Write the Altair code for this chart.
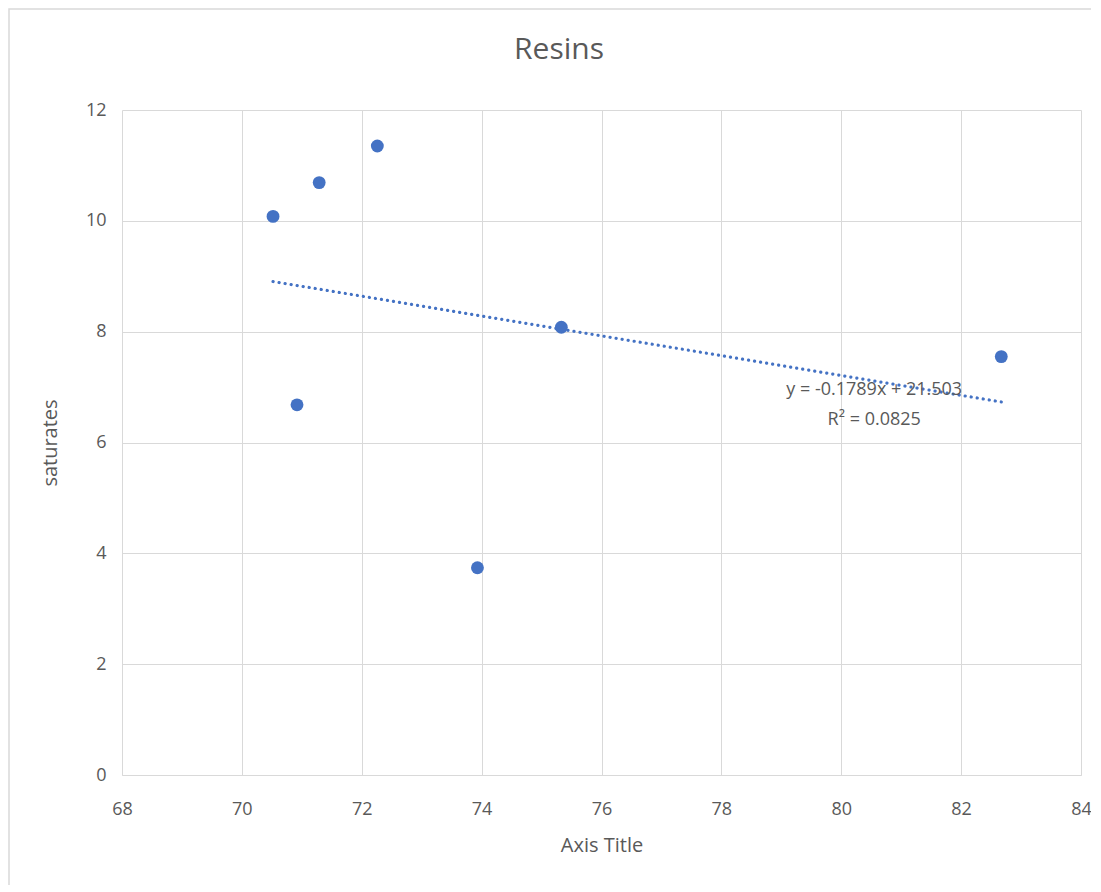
import altair as alt
import pandas as pd

x_vals = [70.52, 71.29, 72.26, 70.92, 73.93, 75.33, 82.67]
y_vals = [10.08, 10.69, 11.35, 6.68, 3.74, 8.08, 7.55]
eq_labels = ["y = -0.1789x + 21.503", "R² = 0.0825"]
eq_x = [80.55, 80.55]
eq_y = [6.95, 6.4]

df = pd.DataFrame({"x": x_vals, "y": y_vals})
eq_df = pd.DataFrame({"x": eq_x, "y": eq_y, "t": eq_labels})

FONT = "Open Sans"
GRAY = "#595959"
BLUE = "#4472C4"
W, H = 959, 665

xs = alt.X("x:Q", scale=alt.Scale(domain=[68, 84], nice=False, zero=False),
           axis=alt.Axis(title="Axis Title", values=list(range(68, 85, 2)), format="d",
                         labelOverlap=False, labelFlush=False,
                         grid=True, gridColor="#d9d9d9", domainColor="#d9d9d9",
                         ticks=False, labelPadding=25, titlePadding=17,
                         labelFontSize=18, titleFontSize=20, labelColor=GRAY,
                         titleColor=GRAY, labelFont=FONT, titleFont=FONT,
                         titleFontWeight="normal"))
ys = alt.Y("y:Q", scale=alt.Scale(domain=[0, 12], nice=False),
           axis=alt.Axis(title="saturates", values=list(range(0, 13, 2)), format="d",
                         labelOverlap=False, labelFlush=False,
                         grid=True, gridColor="#d9d9d9", domain=False,
                         ticks=False, labelPadding=16, titlePadding=25,
                         labelFontSize=18, titleFontSize=20, labelColor=GRAY,
                         titleColor=GRAY, labelFont=FONT, titleFont=FONT,
                         titleFontWeight="normal"))

border = alt.Chart(pd.DataFrame({"a": [0]})).mark_rect(
    fill=None, stroke="#d9d9d9", strokeWidth=1.5, clip=False
).encode(x=alt.value(-113), x2=alt.value(W + 120), y=alt.value(-101), y2=alt.value(H + 140))

title = alt.Chart(pd.DataFrame({"t": ["Resins"]})).mark_text(
    fontSize=30, font=FONT, color=GRAY, baseline="middle", align="center"
).encode(x=alt.value(437), y=alt.value(-60), text="t:N")

pts = alt.Chart(df).mark_circle(size=165, color=BLUE, opacity=1).encode(x=xs, y=ys)

trend = alt.Chart(df).transform_regression("x", "y").mark_line(
    color=BLUE, strokeWidth=3.2, strokeDash=[0.1, 6], strokeCap="round"
).encode(x="x:Q", y="y:Q")

eq = alt.Chart(eq_df).mark_text(fontSize=18, font=FONT, color=GRAY).encode(
    x="x:Q", y="y:Q", text="t:N")

chart = alt.layer(border, title, trend, pts, eq).properties(
    width=W, height=H,
    autosize=alt.AutoSizeParams(type="none"),
    padding={"left": 114, "top": 102, "right": 10, "bottom": 110},
).configure_view(stroke=None)

chart.save("out.html", embed_options={"renderer": "svg", "actions": False})
